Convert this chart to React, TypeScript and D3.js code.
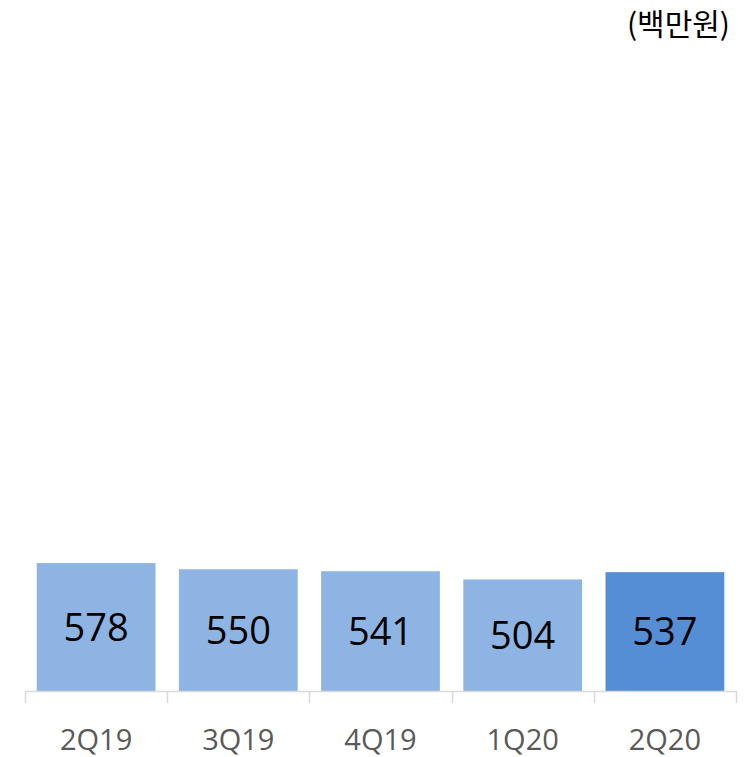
import * as d3 from 'd3'
import React from 'react'

// Chart data
const categories = ['2Q19', '3Q19', '4Q19', '1Q20', '2Q20']
const values = [578, 550, 541, 504, 537]
const highlight = [false, false, false, false, true]
const unitLabel = '(백만원)'

const W = 754
const H = 757
const margin = { top: 27, right: 18, bottom: 66, left: 25 }

const App = () => {
    const innerW = W - margin.left - margin.right
    const innerH = H - margin.top - margin.bottom

    const x = d3.scaleBand<string>()
        .domain(categories)
        .range([0, innerW])
        .paddingInner(0.165)
        .paddingOuter(0.0825)

    const y = d3.scaleLinear()
        .domain([0, 3000])
        .range([innerH, 0])

    const step = x.step()
    const numFont = '"Open Sans", "Noto Sans", sans-serif'

    return (
        <svg width={W} height={H} style={{ position: 'absolute', left: 0, top: 0 }}>
            <rect width={W} height={H} fill="#ffffff" />
            <text x={730} y={35} textAnchor="end" fontSize={30} fill="#000"
                fontFamily='"Noto Sans CJK KR", sans-serif'>{unitLabel}</text>
            <g transform={`translate(${margin.left},${margin.top})`}>
                {categories.map((c, i) => {
                    const bx = x(c) as number
                    const by = y(values[i])
                    const bh = innerH - by
                    return (
                        <g key={c}>
                            <rect x={bx} y={by} width={x.bandwidth()} height={bh}
                                fill={highlight[i] ? '#558ED5' : '#8EB4E3'} />
                            <text x={bx + x.bandwidth() / 2} y={by + bh / 2}
                                dy="0.36em" textAnchor="middle" fontSize={38}
                                fontFamily={numFont} fill="#000">{values[i]}</text>
                            <text x={bx + x.bandwidth() / 2} y={innerH + 59}
                                textAnchor="middle" fontSize={29}
                                fontFamily={numFont} fill="#595959">{c}</text>
                        </g>
                    )
                })}
                {/* x axis */}
                <line x1={0} x2={innerW} y1={innerH + 0.5} y2={innerH + 0.5}
                    stroke="#D9D9D9" strokeWidth={1.5} />
                {d3.range(categories.length + 1).map(k => (
                    <line key={k} x1={Math.round(k * step) + 0.5} x2={Math.round(k * step) + 0.5}
                        y1={innerH} y2={innerH + 12} stroke="#D9D9D9" strokeWidth={1.5} />
                ))}
            </g>
        </svg>
    )
}

export default App
